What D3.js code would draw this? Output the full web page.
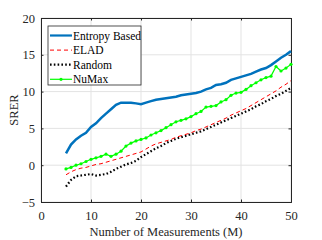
<!DOCTYPE html>
<html>
<head>
<meta charset="utf-8">
<script src="https://cdn.jsdelivr.net/npm/d3@7"></script>
<style>
  body { margin: 0; background: #fff; }
  svg text { font-family: "Liberation Serif", "Times New Roman", Times, "DejaVu Serif", serif !important; }
</style>
</head>
<body>
<svg id="chart"></svg>
<script>
// measurements M = 5..50
var measurements = d3.range(5, 51);

var entropyBased = [1.6, 2.8, 3.5, 4.0, 4.4, 5.2, 5.7, 6.4, 7.0, 7.6,
  8.2, 8.5, 8.5, 8.5, 8.4, 8.3, 8.5, 8.7, 8.9, 9.0,
  9.1, 9.2, 9.3, 9.5, 9.6, 9.7, 9.8, 10.0, 10.3, 10.5,
  10.9, 11.0, 11.2, 11.6, 11.8, 12.0, 12.2, 12.4, 12.7, 13.0,
  13.2, 13.6, 14.1, 14.6, 15.0, 15.5];

var elad = [-1.3, -0.9, -0.6, -0.4, -0.3, -0.1, 0.1, 0.2, 0.4, 0.6,
  0.8, 1.0, 1.2, 1.4, 1.6, 1.8, 2.2, 2.6, 2.9, 3.1,
  3.3, 3.5, 3.8, 4.0, 4.2, 4.4, 4.7, 4.9, 5.2, 5.5,
  5.8, 6.1, 6.4, 6.8, 7.1, 7.4, 7.7, 8.1, 8.5, 8.9,
  9.3, 9.7, 10.1, 10.6, 11.0, 11.5];

var random = [-2.9, -2.0, -1.5, -1.4, -1.3, -1.2, -1.4, -1.3, -1.2, -0.9,
  -0.5, -0.2, 0.1, 0.3, 0.6, 1.1, 1.5, 1.9, 2.3, 2.6,
  3.0, 3.3, 3.6, 3.8, 4.0, 4.2, 4.4, 4.6, 4.9, 5.2,
  5.5, 5.8, 6.1, 6.4, 6.7, 7.0, 7.3, 7.6, 8.0, 8.3,
  8.7, 9.0, 9.4, 9.7, 10.1, 10.5];

var numax = [-0.5, -0.3, 0.0, 0.2, 0.5, 0.8, 1.0, 1.2, 1.5, 1.2,
  1.5, 1.9, 2.6, 3.0, 3.3, 3.5, 3.7, 4.1, 4.4, 4.7,
  5.1, 5.5, 5.9, 6.1, 6.3, 6.6, 7.0, 7.3, 7.9, 8.0,
  8.1, 8.6, 8.9, 9.5, 9.8, 9.9, 10.3, 10.8, 11.2, 11.6,
  11.9, 12.1, 13.4, 12.8, 13.2, 13.7];

var xTicks = [0, 10, 20, 30, 40, 50];
var yTicks = [-5, 0, 5, 10, 15, 20];

var seriesNames = ["Entropy Based", "ELAD", "Random", "NuMax"];

var serif = "'Liberation Serif', 'Times New Roman', Times, 'DejaVu Serif', serif";
var width = 322, height = 240;
var margin = {top: 18, right: 31, bottom: 38, left: 41};

var svg = d3.select("#chart")
    .attr("width", width)
    .attr("height", height);

var x = d3.scaleLinear().domain([0, 50]).range([margin.left, width - margin.right]);
var y = d3.scaleLinear().domain([-5, 20]).range([height - margin.bottom, margin.top]);

// grid
svg.append("g")
    .selectAll("line")
    .data(xTicks)
    .enter().append("line")
    .attr("x1", d => x(d)).attr("x2", d => x(d))
    .attr("y1", y(-5)).attr("y2", y(20))
    .style("stroke", "#e3e3e3").style("stroke-width", 1);

svg.append("g")
    .selectAll("line")
    .data(yTicks)
    .enter().append("line")
    .attr("x1", x(0)).attr("x2", x(50))
    .attr("y1", d => y(d)).attr("y2", d => y(d))
    .style("stroke", "#e3e3e3").style("stroke-width", 1);

// axes (ticks inward like matlab)
svg.append("g")
    .attr("transform", "translate(0," + y(-5) + ")")
    .call(d3.axisBottom(x).tickValues(xTicks).tickSize(-2.5).tickPadding(9));
svg.append("g")
    .attr("transform", "translate(" + x(0) + ",0)")
    .call(d3.axisLeft(y).tickValues(yTicks).tickSize(-2.5).tickPadding(6));
svg.append("g")
    .attr("transform", "translate(0," + y(20) + ")")
    .call(d3.axisTop(x).tickValues(xTicks).tickSize(-2.5).tickFormat(""));
svg.append("g")
    .attr("transform", "translate(" + x(50) + ",0)")
    .call(d3.axisRight(y).tickValues(yTicks).tickSize(-2.5).tickFormat(""));

svg.selectAll("g").attr("font-family", serif);
svg.selectAll(".domain").style("stroke", "#262626").style("stroke-width", 1);
svg.selectAll(".tick line").style("stroke", "#262626");
svg.selectAll(".tick text")
    .attr("font-family", serif)
    .style("font-size", "12.5px")
    .style("fill", "#262626");

// lines
var line = d3.line()
    .x((d, i) => x(measurements[i]))
    .y(d => y(d));

svg.append("path").datum(random)
    .attr("d", line)
    .style("fill", "none").style("stroke", "#000")
    .style("stroke-width", 2.2).style("stroke-dasharray", "1.6,2.2");

svg.append("path").datum(elad)
    .attr("d", line)
    .style("fill", "none").style("stroke", "#ff0000")
    .style("stroke-width", 1).style("stroke-dasharray", "4,3");

svg.append("path").datum(numax)
    .attr("d", line)
    .style("fill", "none").style("stroke", "#00ff00")
    .style("stroke-width", 1.2);

svg.append("g").selectAll("circle")
    .data(numax)
    .enter().append("circle")
    .attr("cx", (d, i) => x(measurements[i]))
    .attr("cy", d => y(d))
    .attr("r", 1.6)
    .style("fill", "#00ff00");

svg.append("path").datum(entropyBased)
    .attr("d", line)
    .style("fill", "none").style("stroke", "#0072bd")
    .style("stroke-width", 2.5);

// axis labels
svg.append("text")
    .attr("x", (x(0) + x(50)) / 2)
    .attr("y", 236)
    .attr("text-anchor", "middle")
    .attr("font-family", serif)
    .style("font-size", "12.5px")
    .style("fill", "#262626")
    .text("Number of Measurements (M)");

svg.append("text")
    .attr("transform", "translate(18," + ((y(-5) + y(20)) / 2) + ") rotate(-90)")
    .attr("text-anchor", "middle")
    .attr("font-family", serif)
    .style("font-size", "12.5px")
    .style("fill", "#262626")
    .text("SRER");

// legend
var legend = svg.append("g").attr("transform", "translate(48,26)");
legend.append("rect")
    .attr("width", 93).attr("height", 59)
    .style("fill", "#fff").style("stroke", "#262626").style("stroke-width", 0.8);

var styles = [
    {color: "#0072bd", width: 2.2, dash: null},
    {color: "#ff0000", width: 1, dash: "4,3"},
    {color: "#000", width: 2.2, dash: "1.6,2.2"},
    {color: "#00ff00", width: 1.2, dash: null}
];

var entry = legend.selectAll(".entry")
    .data(seriesNames)
    .enter().append("g")
    .attr("transform", (d, i) => "translate(0," + (9.5 + i * 14.6) + ")");

entry.append("line")
    .attr("x1", 2).attr("x2", 24)
    .style("stroke", (d, i) => styles[i].color)
    .style("stroke-width", (d, i) => styles[i].width)
    .style("stroke-dasharray", (d, i) => styles[i].dash);

entry.filter((d, i) => i === 3).append("circle")
    .attr("cx", 13).attr("r", 1.6).style("fill", "#00ff00");

entry.append("text")
    .attr("x", 25)
    .attr("dy", "0.35em")
    .attr("font-family", serif)
    .style("font-size", "11.5px")
    .style("fill", "#000")
    .text(d => d);
</script>
</body>
</html>
